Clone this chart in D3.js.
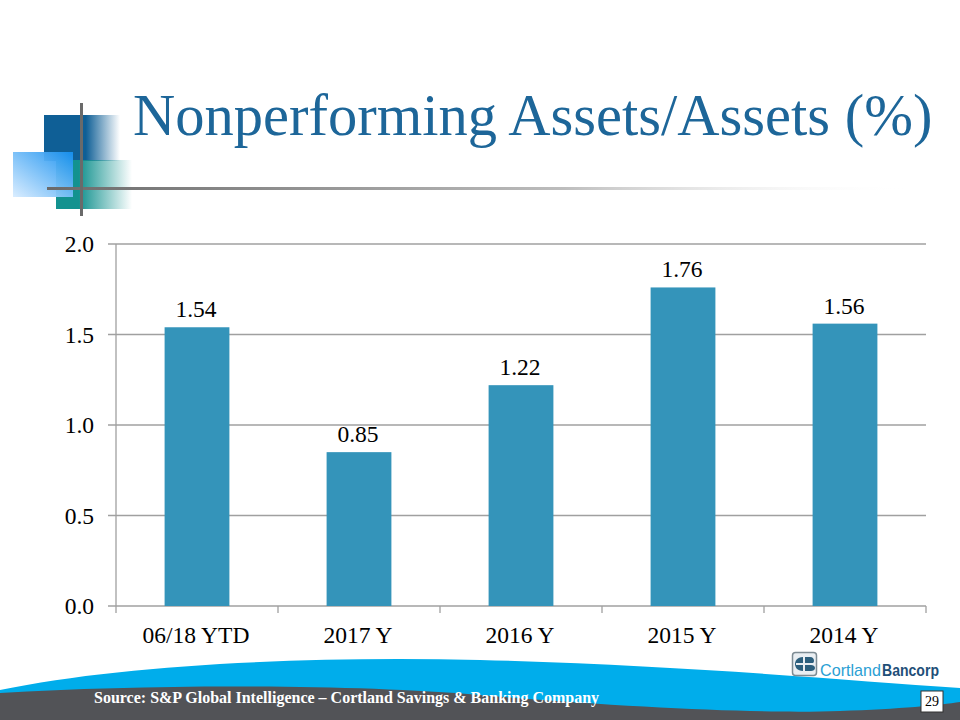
<!DOCTYPE html>
<html><head><meta charset="utf-8">
<script src="https://cdn.jsdelivr.net/npm/d3@7"></script>
<style>html,body{margin:0;padding:0;background:#fff;}svg{display:block;}</style>
</head><body>
<script>
const categories = ["06/18 YTD", "2017 Y", "2016 Y", "2015 Y", "2014 Y"];
const values = [1.54, 0.85, 1.22, 1.76, 1.56];
const yTicks = [0.0, 0.5, 1.0, 1.5, 2.0];
const titleText = "Nonperforming Assets/Assets (%)";
const sourceText = "Source: S&P Global Intelligence \u2013 Cortland Savings & Banking Company";
const pageNumber = "29";
const logoParts = ["Cortland", "Bancorp"];

const W = 960, H = 720;
const svg = d3.select("body").append("svg").attr("width", W).attr("height", H);
const defs = svg.append("defs");
const serif = "'Liberation Serif','Times New Roman',serif";

function lg(id, stops, x1, y1, x2, y2) {
  const g = defs.append("linearGradient").attr("id", id)
    .attr("x1", x1).attr("y1", y1).attr("x2", x2).attr("y2", y2);
  stops.forEach(s => g.append("stop").attr("offset", s[0]).attr("stop-color", s[1]).attr("stop-opacity", s[2] == null ? 1 : s[2]));
}
lg("gDark", [[0, "#0f5f96"], [0.55, "#0f5f96"], [1, "#0f5f96", 0]], 0, 0, 1, 0);
lg("gTeal", [[0, "#13928f"], [0.3, "#13928f"], [1, "#13928f", 0]], 0, 0, 1, 0);
lg("gLight", [[0, "#d8ecff"], [1, "#1590f0"]], 0, 1, 1, 0);
lg("gRule", [[0, "#6a6a6a"], [0.6, "#bdbdbd"], [1, "#ffffff", 0]], 0, 0, 1, 0);

svg.append("rect").attr("x", 44).attr("y", 115).attr("width", 76).attr("height", 46).attr("fill", "url(#gDark)");
svg.append("rect").attr("x", 56).attr("y", 160).attr("width", 76).attr("height", 49).attr("fill", "url(#gTeal)");
svg.append("rect").attr("x", 13).attr("y", 152).attr("width", 60).attr("height", 45).attr("fill", "url(#gLight)").attr("opacity", 0.95);
svg.append("rect").attr("x", 47).attr("y", 187).attr("width", 862).attr("height", 3).attr("fill", "url(#gRule)");
svg.append("rect").attr("x", 80).attr("y", 103).attr("width", 3).attr("height", 113).attr("fill", "#6a6a6a");

svg.append("text").attr("x", 133).attr("y", 135)
  .attr("font-family", serif).attr("font-size", 58.5).attr("fill", "#1d6699")
  .text(titleText);

const x0 = 116, x1 = 926, yTop = 244, yBot = 606;
const x = d3.scaleBand().domain(categories).range([x0, x1]).paddingInner(0).paddingOuter(0);
const y = d3.scaleLinear().domain([0, 2]).range([yBot, yTop]);
const barW = x.step() * 0.4;
const fs = 23.5;

const g = svg.append("g");
g.selectAll("line.grid").data(yTicks).enter().append("line")
  .attr("x1", x0 - 8).attr("x2", x1).attr("y1", d => y(d)).attr("y2", d => y(d))
  .attr("stroke", "#a0a0a0").attr("stroke-width", 1.3);

g.append("line").attr("x1", x0).attr("x2", x0).attr("y1", yTop).attr("y2", yBot)
  .attr("stroke", "#a0a0a0").attr("stroke-width", 1.3);

const bounds = categories.map(c => x(c)).concat([x1]);
g.selectAll("line.xt").data(bounds).enter().append("line")
  .attr("x1", d => d).attr("x2", d => d).attr("y1", yBot).attr("y2", yBot + 7)
  .attr("stroke", "#a0a0a0").attr("stroke-width", 1.3);

g.selectAll("text.yl").data(yTicks).enter().append("text")
  .attr("x", 94).attr("y", d => y(d) + 8)
  .attr("text-anchor", "end").attr("font-family", serif).attr("font-size", fs).attr("fill", "#000")
  .text(d => d3.format(".1f")(d));

g.selectAll("rect.bar").data(values).enter().append("rect")
  .attr("x", (d, i) => x(categories[i]) + x.bandwidth() / 2 - barW / 2)
  .attr("y", d => y(d)).attr("width", barW).attr("height", d => yBot - y(d))
  .attr("fill", "#3494ba");

g.selectAll("text.vl").data(values).enter().append("text")
  .attr("x", (d, i) => x(categories[i]) + x.bandwidth() / 2 - 1)
  .attr("y", d => y(d) - 10)
  .attr("text-anchor", "middle").attr("font-family", serif).attr("font-size", fs).attr("fill", "#000")
  .text(d => d3.format(".2f")(d));

g.selectAll("text.xl").data(categories).enter().append("text")
  .attr("x", d => x(d) + x.bandwidth() / 2 - 1).attr("y", 643)
  .attr("text-anchor", "middle").attr("font-family", serif).attr("font-size", fs).attr("fill", "#000")
  .text(d => d);

svg.append("path").attr("d", "M0,690 C120,665 300,656 480,660 C680,665 840,680 960,688 L960,720 L0,720 Z").attr("fill", "#00adeb");
svg.append("path").attr("d", "M0,693 C150,684 350,684 480,695 C620,707 760,714 840,711 C900,709 940,705 960,702 L960,720 L0,720 Z").attr("fill", "#525357");

svg.append("text").attr("x", 94).attr("y", 703)
  .attr("font-family", serif).attr("font-size", 16).attr("font-weight", "bold").attr("fill", "#fff")
  .text(sourceText);

svg.append("rect").attr("x", 921).attr("y", 691).attr("width", 22).attr("height", 21)
  .attr("fill", "#fff").attr("stroke", "#333").attr("stroke-width", 1);
svg.append("text").attr("x", 932).attr("y", 706).attr("text-anchor", "middle")
  .attr("font-family", serif).attr("font-size", 14).attr("fill", "#000").text(pageNumber);

const logo = svg.append("g");
logo.append("rect").attr("x", 792.5).attr("y", 652.5).attr("width", 24).attr("height", 23).attr("rx", 3)
  .attr("fill", "#e9eef2").attr("stroke", "#7d8b93").attr("stroke-width", 1.5);
logo.append("path").attr("d", "M803,657 C797,657 795,661 795,664 C795,667 797,671 803,671 Z").attr("fill", "#2c5f7d");
logo.append("path").attr("d", "M805,657 L810,657 C813,657 814,659 814,661 C814,663 812,664 810,664 L805,664 Z").attr("fill", "#2c5f7d");
logo.append("path").attr("d", "M805,665 L811,665 C813,665 815,666 815,668 C815,670 813,671 811,671 L805,671 Z").attr("fill", "#2c5f7d");
logo.append("rect").attr("x", 796).attr("y", 663).attr("width", 18).attr("height", 2).attr("fill", "#e9eef2");
logo.append("text").attr("x", 820).attr("y", 676)
  .attr("font-family", "'Liberation Sans','Noto Sans',sans-serif").attr("font-size", 17)
  .attr("textLength", 61).attr("lengthAdjust", "spacingAndGlyphs")
  .attr("fill", "#2b9fd4").text(logoParts[0]);
logo.append("text").attr("x", 882).attr("y", 676)
  .attr("font-family", "'Liberation Sans','Noto Sans',sans-serif").attr("font-size", 17)
  .attr("textLength", 57).attr("lengthAdjust", "spacingAndGlyphs")
  .attr("fill", "#1f4f78").attr("font-weight", "600").text(logoParts[1]);
</script>
</body></html>
